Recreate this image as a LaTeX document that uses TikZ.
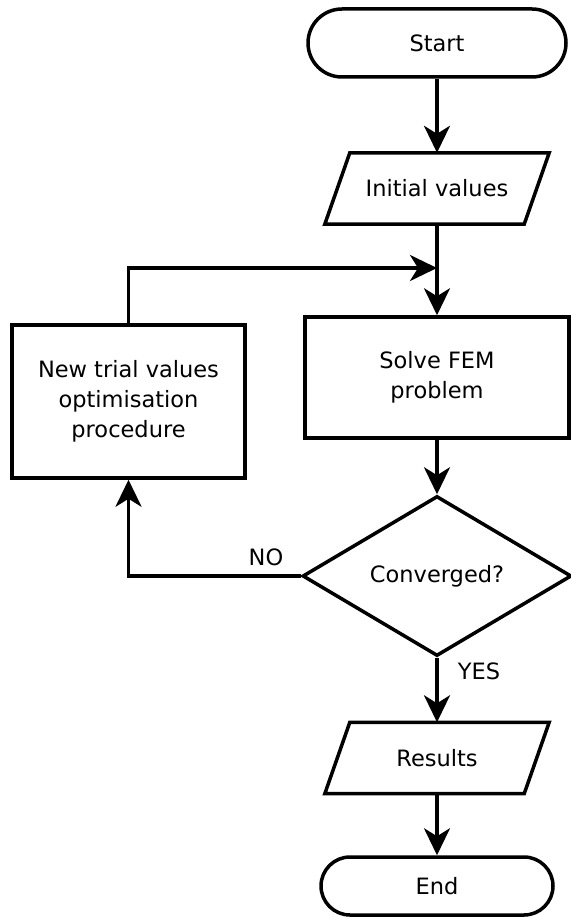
\documentclass[tikz,border=0pt]{standalone}
\usepackage{fontspec}
\setmainfont{DejaVu Sans}
\usetikzlibrary{arrows.meta,shapes.geometric,shapes.misc}
\begin{document}
\begin{tikzpicture}[x=1pt,y=-1pt,
  every node/.style={font=\fontsize{22.5}{30}\selectfont, inner sep=0pt},
  shp/.style={draw, line width=3.5pt},
  term/.style={shp, rounded rectangle},
  io/.style={rectangle, minimum width=199pt, minimum height=71pt},
  iobox/.style={line width=3.5pt, line join=miter},
  proc/.style={shp, rectangle, align=center},
  dec/.style={shp, diamond, minimum width=269pt, minimum height=160pt},
  lbl/.style={},
  conn/.style={line width=3.5pt, -{Stealth[length=27pt,width=26pt,inset=8pt]}}
]
\useasboundingbox (0,0) rectangle (570,917);
\node[term, minimum width=258pt, minimum height=68pt] (start) at (437,43) {Start};
\node[io] (init) at (437,188.5) {Initial values};
\draw[iobox] ([xshift=-12.5pt]init.south west) -- ([xshift=-12.5pt]init.south east)
  -- ([xshift=12.5pt]init.north east) -- ([xshift=12.5pt]init.north west) -- cycle;
\node[proc, minimum width=264pt, minimum height=121pt] (fem) at (437,377.5) {Solve FEM\\problem};
\node[proc, minimum width=233pt, minimum height=153pt] (trial) at (128.5,401.5) {New trial values\\optimisation\\procedure};
\node[dec] (conv) at (437,576) {Converged?};
\node[io] (res) at (437,758) {Results};
\draw[iobox] ([xshift=-12.5pt]res.south west) -- ([xshift=-12.5pt]res.south east)
  -- ([xshift=12.5pt]res.north east) -- ([xshift=12.5pt]res.north west) -- cycle;
\node[term, minimum width=232pt, minimum height=58pt] (end) at (437,886) {End};
\node[lbl] (no) at (266,557) {NO};
\node[lbl] (yes) at (479,671) {YES};
\coordinate (merge) at (437,268);

\draw[conn] (start.south) -- (init.north);
\draw[conn] (init.south) -- (fem.north);
\draw[conn] (trial.north) |- (merge);
\draw[conn] (fem.south) -- (conv.north);
\draw[conn] (conv.west) -| (trial.south);
\draw[conn] (conv.south) -- (res.north);
\draw[conn] (res.south) -- (end.north);
\end{tikzpicture}
\end{document}
